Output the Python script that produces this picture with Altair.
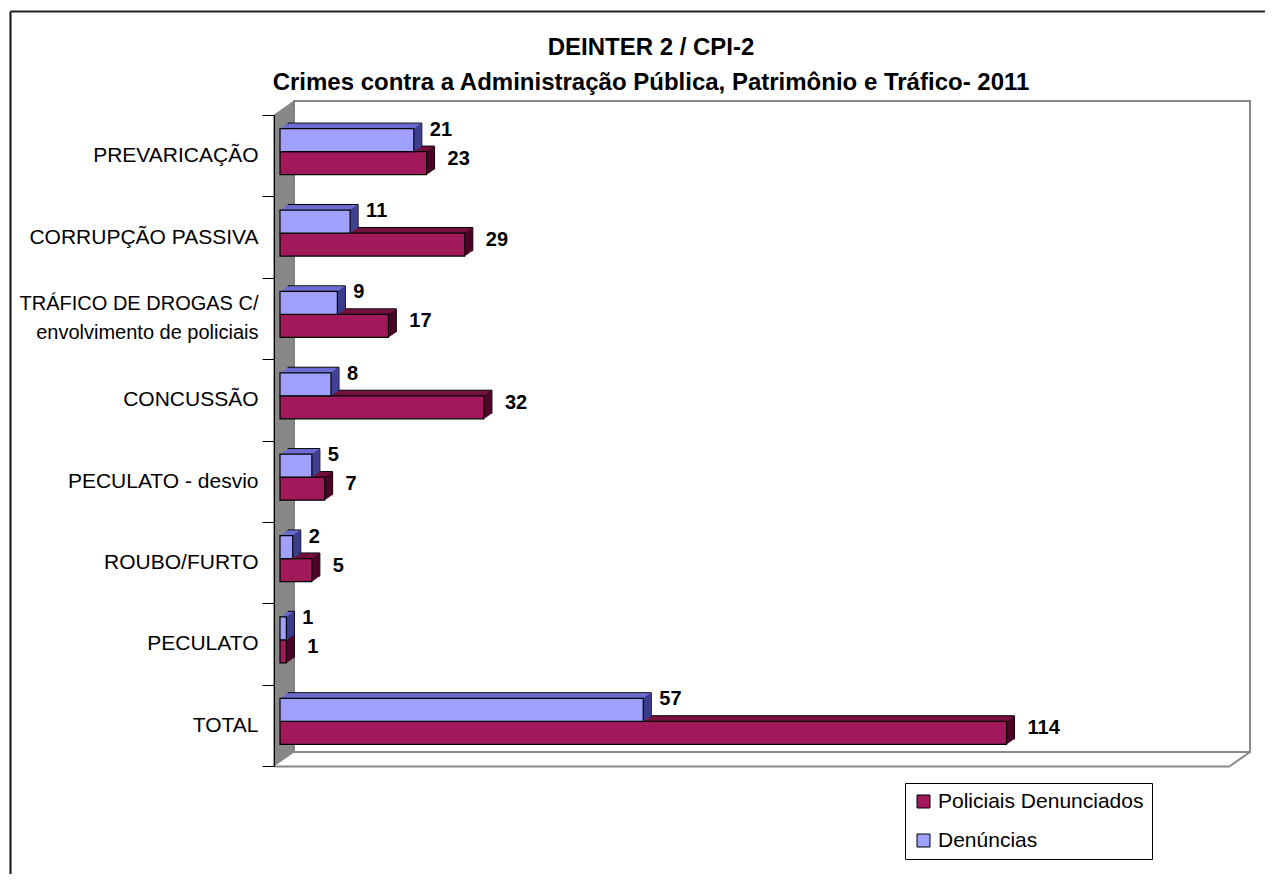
import altair as alt
import pandas as pd

# ---------------- data ----------------
categories = [
    "PREVARICAÇÃO",
    "CORRUPÇÃO PASSIVA",
    "TRÁFICO DE DROGAS C/\nenvolvimento de policiais",
    "CONCUSSÃO",
    "PECULATO - desvio",
    "ROUBO/FURTO",
    "PECULATO",
    "TOTAL",
]
denuncias = [21, 11, 9, 8, 5, 2, 1, 57]
policiais = [23, 29, 17, 32, 7, 5, 1, 114]
series_names = ["Policiais Denunciados", "Denúncias"]
title_lines = [
    "DEINTER 2 / CPI-2",
    "Crimes contra a Administração Pública, Patrimônio e Tráfico- 2011",
]

# ---------------- style ----------------
FONT = "Liberation Sans"
MAROON, MAROON_TOP, MAROON_SIDE = "#A2195B", "#74103F", "#4A0526"
BLUE, BLUE_TOP, BLUE_SIDE = "#A0A0FF", "#6C6CD0", "#3B3B8C"
WALL = "#808080"

W, H = 956, 651          # back-wall (view) size
DX, DY = 20, 14          # depth of the 3D box
BAR_DX = 6               # depth of bar front face
EXT = 8                  # bar extrusion depth
SLOPE = 0.7
BAR_H = 23
LINE_H = 29

df_m = pd.DataFrame({"category": categories, "series": series_names[0], "value": policiais})
df_b = pd.DataFrame({"category": categories, "series": series_names[1], "value": denuncias})
df_cat = pd.DataFrame({"category": categories})
df_last = pd.DataFrame({"category": categories[-1:]})

x_scale = alt.Scale(domain=[0, 150], range=[-DX, W - DX], nice=False, zero=True)
y_scale = alt.Scale(domain=categories, range=[DY, H + DY], paddingInner=0, paddingOuter=0)
color_scale = alt.Scale(domain=series_names, range=[MAROON, BLUE])

MULTI = "isValid(datum.value) && indexof(datum.value, '\\n') >= 0"

y_axis = alt.Axis(
    orient="left", offset=DX, tickBand="extent", tickSize=12, tickColor="black",
    tickWidth=1, domainColor="black", domainWidth=1,
    labelFontSize={"condition": {"test": MULTI, "value": 20}, "value": 21},
    labelFont=FONT, labelColor="black", labelLimit=0, labelPadding=4,
    labelExpr="isValid(datum.value) ? split(datum.value, '\\n') : ''",
    labelLineHeight=LINE_H,
    labelOffset={"condition": {"test": MULTI, "value": -LINE_H / 2}, "value": 0},
    title=None, zindex=1, grid=False,
)
x_axis = alt.Axis(
    orient="bottom", offset=DY, labels=False, ticks=False, domainColor="#888888",
    domainWidth=2, title=None, grid=False,
)
legend = alt.Legend(
    orient="none", legendX=611, legendY=682, title=None, symbolType="square",
    symbolSize=169, symbolStrokeColor="black", symbolStrokeWidth=1,
    labelFontSize=21, labelFont=FONT, labelColor="black", labelLimit=0,
    strokeColor="black", fillColor="white", padding=8, rowPadding=17, labelOffset=4,
)


def X():
    return alt.X("value:Q", scale=x_scale, axis=x_axis, title=None)


def Y():
    return alt.Y("category:N", scale=y_scale, sort=None, axis=y_axis, title=None)


def XD(v):
    return alt.XDatum(v, scale=x_scale, axis=x_axis)


layers = []

# outer chart border (frame decoration)
layers.append(
    alt.Chart(df_last).mark_rule(color="#111111", strokeWidth=2).encode(
        x=alt.value(-283.5), y=alt.value(-89.5), y2=alt.value(820)
    )
)
layers.append(
    alt.Chart(df_last).mark_rule(color="#222222", strokeWidth=2).encode(
        x=alt.value(-283.5), x2=alt.value(1100), y=alt.value(-89.5)
    )
)

# left gray wall
for k in range(0, DX + 1):
    layers.append(
        alt.Chart(df_cat).mark_tick(
            color=WALL, thickness=1.5, size=82, opacity=1, xOffset=k, yOffset=-SLOPE * k
        ).encode(x=XD(0), y=Y())
    )

# floor right diagonal edge
layers.append(
    alt.Chart(df_last).mark_rule(
        color="#888888", strokeWidth=2, x2Offset=DX, yOffset=H / 16, y2Offset=H / 16 - DY
    ).encode(
        x=XD(150), x2=alt.X2Datum(150),
        y=Y(), y2=alt.Y2("category:N"),
    )
)


def bar_layers(df, base_dy, top, side):
    out = []
    for k in range(EXT, 0, -1):
        props = dict(
            fill=top, height=BAR_H, xOffset=BAR_DX + k, x2Offset=BAR_DX + k,
            yOffset=base_dy - SLOPE * k,
        )
        if k == EXT:
            props.update(stroke="black", strokeWidth=1)
        out.append(alt.Chart(df).mark_bar(**props).encode(x=X(), y=Y()))
    for k in range(EXT - 1, 0, -1):
        out.append(
            alt.Chart(df).mark_tick(
                color=side, thickness=1.3, size=BAR_H, opacity=1,
                xOffset=BAR_DX + k, yOffset=base_dy - SLOPE * k,
            ).encode(x=X(), y=Y())
        )
    out.append(
        alt.Chart(df).mark_bar(
            height=BAR_H, stroke="black", strokeWidth=1.2, xOffset=BAR_DX,
            x2Offset=BAR_DX, yOffset=base_dy, opacity=1,
        ).encode(
            x=X(),
            y=Y(),
            color=alt.Color("series:N", scale=color_scale, legend=legend),
        )
    )
    return out


layers += bar_layers(df_m, 7.5, MAROON_TOP, MAROON_SIDE)
layers += bar_layers(df_b, -15.5, BLUE_TOP, BLUE_SIDE)

# value labels
layers.append(
    alt.Chart(df_m).mark_text(
        align="left", baseline="middle", dx=BAR_DX + 21, dy=3, fontSize=20,
        fontWeight="bold", font=FONT, color="black",
    ).encode(x=X(), y=Y(), text="value:Q")
)
layers.append(
    alt.Chart(df_b).mark_text(
        align="left", baseline="middle", dx=BAR_DX + 16, dy=-26, fontSize=20,
        fontWeight="bold", font=FONT, color="black",
    ).encode(x=X(), y=Y(), text="value:Q")
)

chart = (
    alt.layer(*layers)
    .properties(
        width=W,
        height=H,
        padding={"left": 286, "top": 93, "right": 15, "bottom": 122},
        autosize=alt.AutoSizeParams(type="none"),
        title=alt.TitleParams(
            text=title_lines, fontSize=24, font=FONT, fontWeight="bold", color="black",
            anchor="middle", frame="group", dx=-121, dy=114, offset=11,
            baseline="alphabetic", lineHeight=35,
        ),
    )
    .configure(font=FONT)
    .configure_view(stroke="#888888", strokeWidth=2)
)

chart.save("out.html", embed_options={"renderer": "svg", "actions": False})
